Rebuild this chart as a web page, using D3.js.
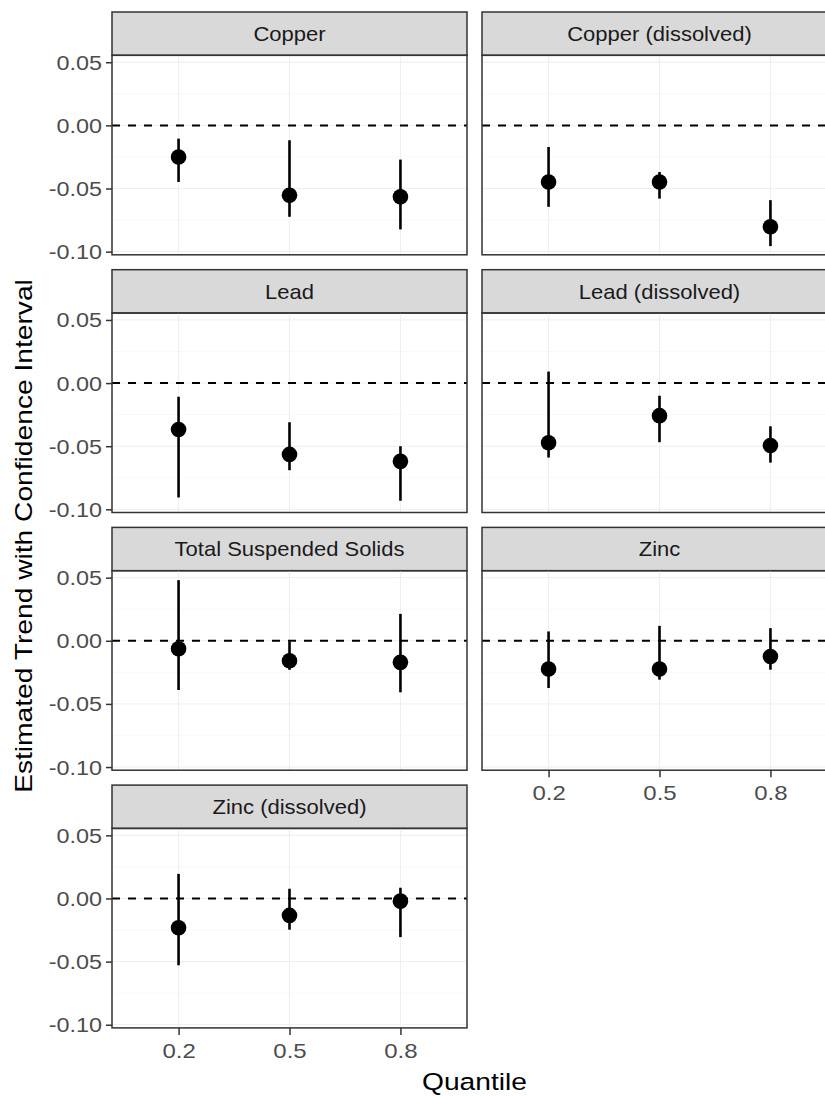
<!DOCTYPE html>
<meta charset="utf-8">
<head>
<style>
  body { margin: 0; background: #fff; }
  svg { display: block; font-family: "Liberation Sans", Arial, sans-serif; }
  .strip rect { fill: #d9d9d9; stroke: #333; stroke-width: 1.5px; }
  .panel-border { fill: none; stroke: #333; stroke-width: 1.5px; }
  .grid-major { stroke: #eeeeee; stroke-width: 1px; }
  .grid-minor { stroke: #f5f5f5; stroke-width: 0.6px; }
  .zero { stroke: #000; stroke-width: 2px; stroke-dasharray: 8 8; }
  .tick line { stroke: #333; stroke-width: 1.5px; }
  .tick text { fill: #4d4d4d; }
</style>
</head>
<body>
<svg id="chart" width="825" height="1096"></svg>
<script src="https://d3js.org/d3.v7.min.js"></script>
<script>

// ---- data ----
var facets = ["Copper", "Copper (dissolved)", "Lead", "Lead (dissolved)",
              "Total Suspended Solids", "Zinc", "Zinc (dissolved)"];
var quantiles = ["0.2", "0.5", "0.8"];

var estimate = [
  [-0.0250, -0.0553, -0.0566],
  [-0.0448, -0.0448, -0.0803],
  [-0.0368, -0.0565, -0.0620],
  [-0.0473, -0.0258, -0.0494],
  [-0.0063, -0.0158, -0.0171],
  [-0.0224, -0.0224, -0.0124],
  [-0.0232, -0.0134, -0.0021]
];
var lower = [
  [-0.0448, -0.0724, -0.0824],
  [-0.0645, -0.0580, -0.0956],
  [-0.0906, -0.0690, -0.0932],
  [-0.0590, -0.0468, -0.0630],
  [-0.0390, -0.0230, -0.0408],
  [-0.0374, -0.0308, -0.0229],
  [-0.0529, -0.0247, -0.0306]
];
var upper = [
  [-0.0105, -0.0118, -0.0271],
  [-0.0171, -0.0369, -0.0592],
  [-0.0108, -0.0310, -0.0500],
  [ 0.0091, -0.0100, -0.0342],
  [ 0.0480, -0.0005,  0.0213],
  [ 0.0074,  0.0118,  0.0100],
  [ 0.0195,  0.0077,  0.0085]
];

var yTicks = [0.05, 0, -0.05, -0.10];
var yTickLabels = ["0.05", "0.00", "-0.05", "-0.10"];
var yMinor = [0.025, -0.025, -0.075];

// ---- layout ----
var svg = d3.select("#chart");
var colX = [112, 482],
    panelW = 355,
    rowTop = 12, rowPitch = 257.7,
    stripH = 43.3, panelH = 199.5,
    ncol = 2;
var stretch = 1.2;   // the reference font runs wider than Liberation Sans

var x = d3.scalePoint().domain(quantiles).range([0, panelW]).padding(0.6);
var y = d3.scaleLinear().domain([-0.1025, 0.0555]).range([panelH, 0]);

// which panel is last in its column (gets the x axis)
function hasXAxis(i) { return i + ncol >= facets.length; }

facets.forEach(function(name, i) {
  var col = i % ncol, row = Math.floor(i / ncol);
  var gx = colX[col], gy = rowTop + row * rowPitch;

  var strip = svg.append("g").attr("class", "strip")
      .attr("transform", "translate(" + gx + "," + gy + ")");
  strip.append("rect").attr("width", panelW).attr("height", stripH);
  strip.append("text")
      .attr("transform", "translate(" + (panelW / 2) + "," + (stripH / 2 + 7.2) + ") scale(1.1,1)")
      .attr("text-anchor", "middle")
      .attr("font-size", 20)
      .attr("fill", "#1a1a1a")
      .text(name);

  var g = svg.append("g")
      .attr("transform", "translate(" + gx + "," + (gy + stripH) + ")");

  // grid
  g.selectAll(".gmin").data(yMinor).enter().append("line")
      .attr("class", "grid-minor")
      .attr("x1", 0).attr("x2", panelW)
      .attr("y1", function(d) { return y(d); }).attr("y2", function(d) { return y(d); });
  g.selectAll(".gmaj").data(yTicks).enter().append("line")
      .attr("class", "grid-major")
      .attr("x1", 0).attr("x2", panelW)
      .attr("y1", function(d) { return y(d); }).attr("y2", function(d) { return y(d); });
  g.selectAll(".gx").data(quantiles).enter().append("line")
      .attr("class", "grid-major")
      .attr("y1", 0).attr("y2", panelH)
      .attr("x1", function(d) { return x(d); }).attr("x2", function(d) { return x(d); });

  // reference line at zero
  g.append("line").attr("class", "zero")
      .attr("x1", 0).attr("x2", panelW)
      .attr("y1", y(0)).attr("y2", y(0));

  // error bars and points
  var pts = quantiles.map(function(q, j) {
    return { q: q, est: estimate[i][j], lo: lower[i][j], hi: upper[i][j] };
  });
  g.selectAll(".ci").data(pts).enter().append("line")
      .attr("x1", function(d) { return x(d.q); }).attr("x2", function(d) { return x(d.q); })
      .attr("y1", function(d) { return y(d.lo); }).attr("y2", function(d) { return y(d.hi); })
      .attr("stroke", "#000").attr("stroke-width", 2.6);
  g.selectAll(".pt").data(pts).enter().append("circle")
      .attr("cx", function(d) { return x(d.q); })
      .attr("cy", function(d) { return y(d.est); })
      .attr("r", 7.8).attr("fill", "#000");

  g.append("rect").attr("class", "panel-border")
      .attr("width", panelW).attr("height", panelH);

  // y axis on left column
  if (col === 0) {
    var ya = g.append("g")
        .call(d3.axisLeft(y).tickValues(yTicks).tickSize(6).tickPadding(4)
          .tickFormat(function(d, k) { return yTickLabels[k]; }));
    ya.select(".domain").remove();
    ya.selectAll(".tick text")
        .attr("font-size", 19.5)
        .attr("font-family", "Liberation Sans, Arial, sans-serif")
        .attr("x", -10 / stretch)
        .attr("dy", "0.36em")
        .attr("transform", "scale(" + stretch + ",1)");
  }

  if (hasXAxis(i)) {
    var xa = g.append("g")
        .attr("transform", "translate(0," + panelH + ")")
        .call(d3.axisBottom(x).tickSize(7).tickPadding(9));
    xa.select(".domain").remove();
    xa.selectAll(".tick text")
        .attr("font-size", 20)
        .attr("font-family", "Liberation Sans, Arial, sans-serif")
        .attr("transform", "scale(" + stretch + ",1)");
  }
});

// axis titles
svg.append("text")
    .attr("transform", "translate(" + (colX[0] + colX[1] + panelW) / 2 + ",1090) scale(" + stretch + ",1)")
    .attr("text-anchor", "middle")
    .attr("font-size", 23.5)
    .text("Quantile");

svg.append("text")
    .attr("transform", "translate(32,536) rotate(-90) scale(" + stretch + ",1)")
    .attr("text-anchor", "middle")
    .attr("font-size", 23.5)
    .text("Estimated Trend with Confidence Interval");

</script>
</body>
</html>
